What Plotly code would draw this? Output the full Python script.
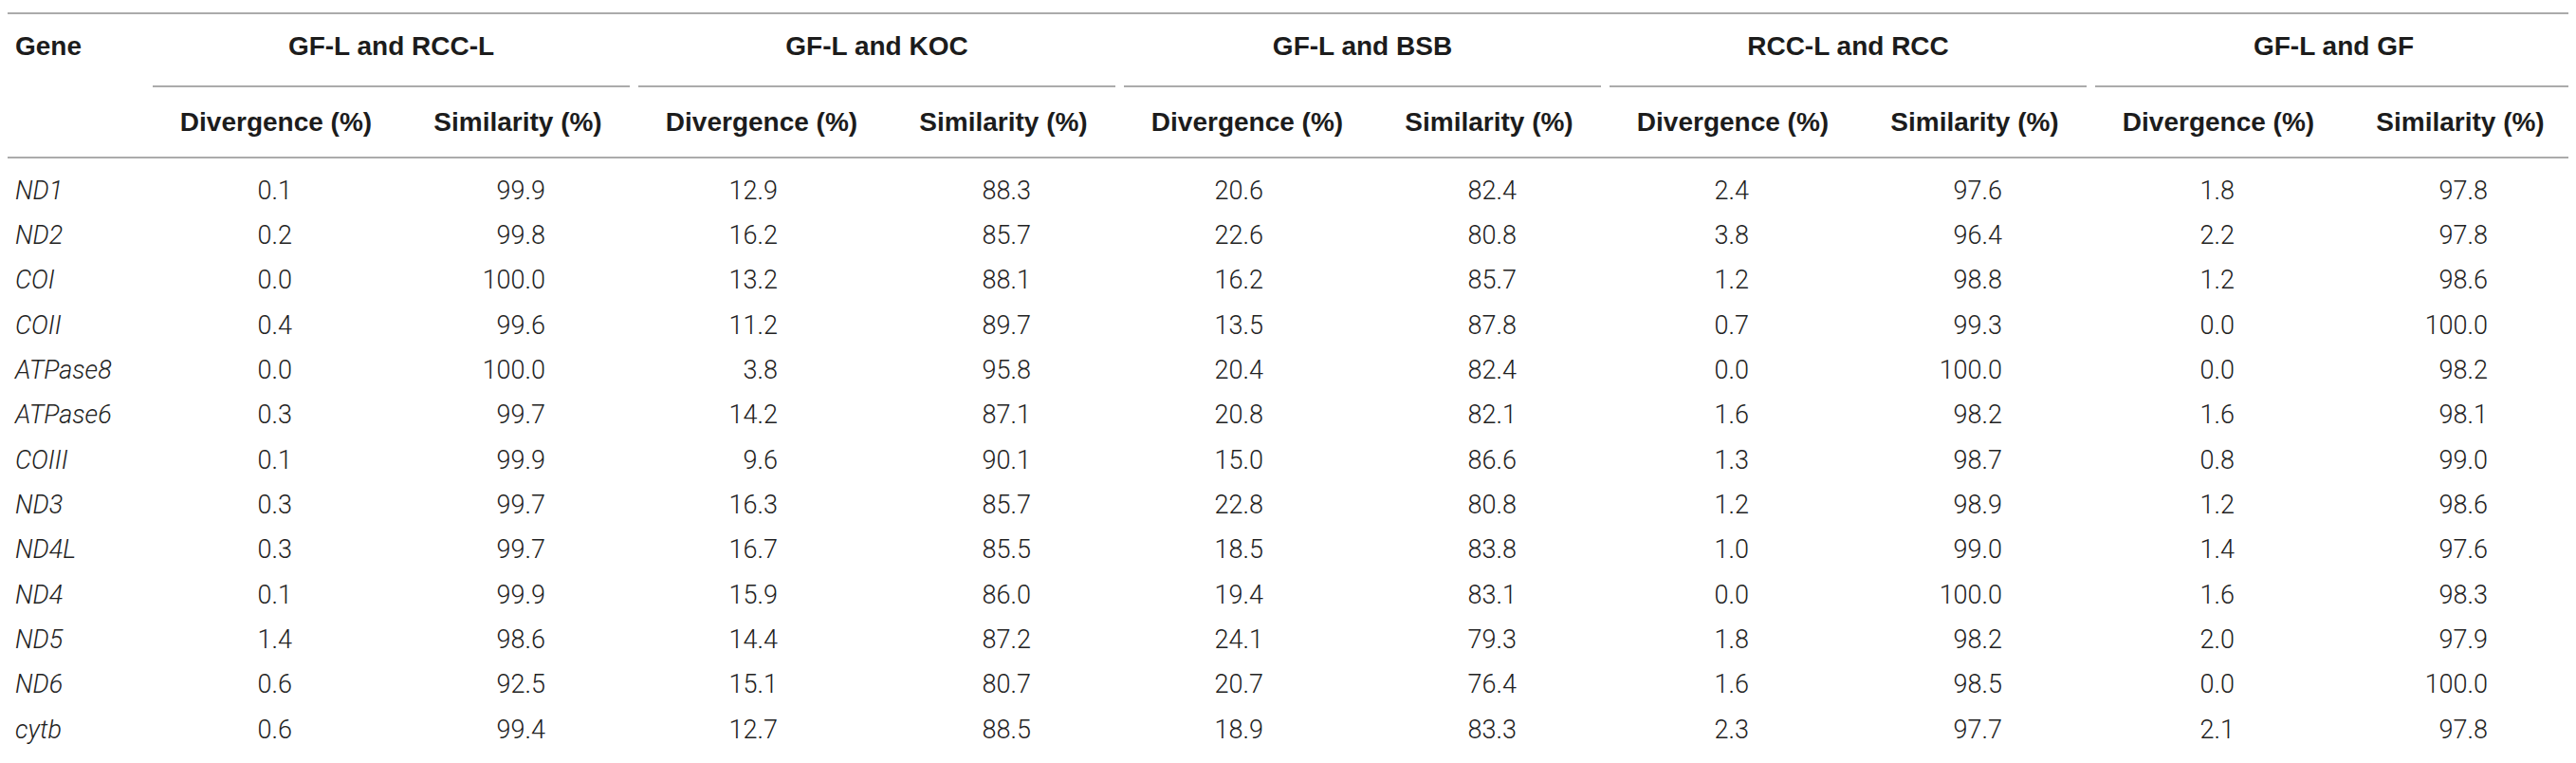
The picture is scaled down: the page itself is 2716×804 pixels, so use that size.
import plotly.graph_objects as go

genes = ["ND1", "ND2", "COI", "COII", "ATPase8", "ATPase6", "COIII",
         "ND3", "ND4L", "ND4", "ND5", "ND6", "cytb"]

pairs = ["GF-L and RCC-L", "GF-L and KOC", "GF-L and BSB", "RCC-L and RCC", "GF-L and GF"]

div_rccl = [0.1, 0.2, 0.0, 0.4, 0.0, 0.3, 0.1, 0.3, 0.3, 0.1, 1.4, 0.6, 0.6]
sim_rccl = [99.9, 99.8, 100.0, 99.6, 100.0, 99.7, 99.9, 99.7, 99.7, 99.9, 98.6, 92.5, 99.4]

div_koc = [12.9, 16.2, 13.2, 11.2, 3.8, 14.2, 9.6, 16.3, 16.7, 15.9, 14.4, 15.1, 12.7]
sim_koc = [88.3, 85.7, 88.1, 89.7, 95.8, 87.1, 90.1, 85.7, 85.5, 86.0, 87.2, 80.7, 88.5]

div_bsb = [20.6, 22.6, 16.2, 13.5, 20.4, 20.8, 15.0, 22.8, 18.5, 19.4, 24.1, 20.7, 18.9]
sim_bsb = [82.4, 80.8, 85.7, 87.8, 82.4, 82.1, 86.6, 80.8, 83.8, 83.1, 79.3, 76.4, 83.3]

div_rcc = [2.4, 3.8, 1.2, 0.7, 0.0, 1.6, 1.3, 1.2, 1.0, 0.0, 1.8, 1.6, 2.3]
sim_rcc = [97.6, 96.4, 98.8, 99.3, 100.0, 98.2, 98.7, 98.9, 99.0, 100.0, 98.2, 98.5, 97.7]

div_gf = [1.8, 2.2, 1.2, 0.0, 0.0, 1.6, 0.8, 1.2, 1.4, 1.6, 2.0, 0.0, 2.1]
sim_gf = [97.8, 97.8, 98.6, 100.0, 98.2, 98.1, 99.0, 98.6, 97.6, 98.3, 97.9, 100.0, 97.8]

divergence = [div_rccl, div_koc, div_bsb, div_rcc, div_gf]
similarity = [sim_rccl, sim_koc, sim_bsb, sim_rcc, sim_gf]

sub_labels = ["Divergence (%)", "Similarity (%)"]

W, H = 2716, 804
ROW0, PITCH = 195, 47.33          # pixel y of first data row, row spacing
G0, GSTEP, GWIDTH = 153, 512, 503  # pair block start, step, underline width


def row(py):
    # pixel y -> row units
    return (py - ROW0) / PITCH


rows = list(range(len(genes)))
head_font = dict(family="Liberation Sans", size=28, color="#1c1c1c", weight="bold")
cell_font = dict(family="Roboto", size=27, color="#222222", weight=300)
line_col = "#ababab"

fig = go.Figure()

# gene names
fig.add_trace(go.Scatter(
    x=[8] * len(genes), y=rows, text=genes, mode="text",
    textposition="middle right",
    textfont=dict(cell_font, style="italic"),
))

for g, name in enumerate(pairs):
    x0 = G0 + GSTEP * g
    fig.add_trace(go.Scatter(
        x=[x0 + 147] * len(genes), y=rows,
        text=[f"{v:.1f}" for v in divergence[g]], mode="text",
        textposition="middle left", textfont=cell_font,
    ))
    fig.add_trace(go.Scatter(
        x=[x0 + 414] * len(genes), y=rows,
        text=[f"{v:.1f}" for v in similarity[g]], mode="text",
        textposition="middle left", textfont=cell_font,
    ))
    # pair header + sub headers
    fig.add_trace(go.Scatter(
        x=[x0 + GWIDTH / 2, x0 + 130, x0 + 385],
        y=[row(43), row(123), row(123)],
        text=[name] + sub_labels, mode="text",
        textposition="middle center", textfont=head_font,
    ))
    fig.add_shape(type="line", x0=x0, x1=x0 + GWIDTH, y0=row(83), y1=row(83),
                  line=dict(color=line_col, width=2))

fig.add_trace(go.Scatter(
    x=[8], y=[row(43)], text=["Gene"], mode="text",
    textposition="middle right", textfont=head_font,
))

for py in [6, 158, 798]:
    fig.add_shape(type="line", x0=0, x1=2709, y0=row(py), y1=row(py),
                  line=dict(color=line_col, width=2))

fig.update_traces(cliponaxis=False, hoverinfo="skip")
fig.update_layout(
    width=W, height=H,
    margin=dict(l=0, r=0, t=0, b=0),
    paper_bgcolor="white", plot_bgcolor="white",
    showlegend=False,
    xaxis=dict(range=[0, W], visible=False, fixedrange=True),
    yaxis=dict(range=[row(H), row(0)], visible=False, fixedrange=True),
)

fig.write_html("out.html")
